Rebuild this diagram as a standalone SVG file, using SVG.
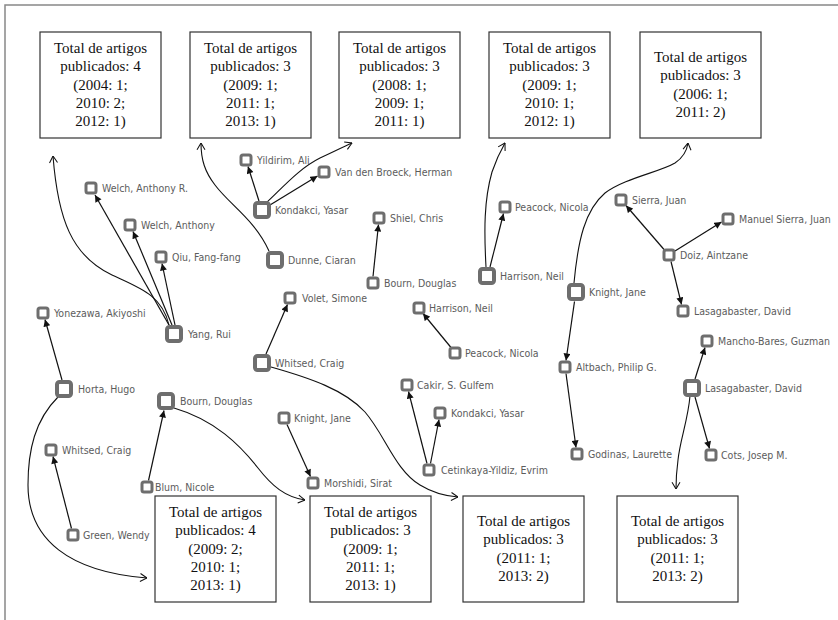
<svg xmlns="http://www.w3.org/2000/svg" width="838" height="620" viewBox="0 0 838 620">
<style>
.box{fill:#fff;stroke:#333;stroke-width:1.2}
.bt{font-family:"Liberation Serif","Times New Roman",serif;font-size:15px;fill:#111;text-anchor:middle}
.ns{fill:#fff;stroke:#6e6e6e;stroke-width:3}
.nl{fill:#fff;stroke:#6e6e6e;stroke-width:4}
.lb{font-family:"DejaVu Sans Condensed","Liberation Sans",Arial,sans-serif;font-size:10.5px;fill:#5c5c5c}
.e{fill:none;stroke:#111;stroke-width:1.2;marker-end:url(#fa)}
.c{fill:none;stroke:#111;stroke-width:1.1;marker-end:url(#oa)}
</style>
<defs>
<marker id="fa" viewBox="0 0 10 10" refX="10" refY="5" markerWidth="8" markerHeight="7" orient="auto" markerUnits="userSpaceOnUse"><path d="M0,0 L10,5 L0,10 z" fill="#111"/></marker>
<marker id="oa" viewBox="0 0 10 12" refX="9.5" refY="6" markerWidth="8" markerHeight="9.6" orient="auto" markerUnits="userSpaceOnUse"><path d="M1,1 L9.5,6 L1,11" fill="none" stroke="#111" stroke-width="1.3"/></marker>
</defs>
<rect width="838" height="620" fill="#fff"/>
<path d="M5,620 L5,5 L838,5" fill="none" stroke="#888" stroke-width="1.5"/>

<g id="connectors">
<path class="e" d="M169,325 L95,195"/>
<path class="e" d="M172,325 L133,231.5"/>
<path class="e" d="M175,325 L162,263.5"/>
<path class="e" d="M62,380 L45,319.5"/>
<path class="e" d="M259,201 L248,166.5"/>
<path class="e" d="M270,205 L317.5,176"/>
<path class="e" d="M373,276.5 L378.5,224.5"/>
<path class="e" d="M266,354 L287.5,304.5"/>
<path class="e" d="M490,267 L503.5,213.5"/>
<path class="e" d="M451,347.5 L423,313.5"/>
<path class="e" d="M664,249.5 L626,205.5"/>
<path class="e" d="M675,251 L721.5,222"/>
<path class="e" d="M671,261.5 L681.5,304.5"/>
<path class="e" d="M574.5,301.5 L566,360.5"/>
<path class="e" d="M566,373.5 L576,447.5"/>
<path class="e" d="M695,379 L705,347.5"/>
<path class="e" d="M695,397 L709.5,448.5"/>
<path class="e" d="M427,463.5 L408.5,391.5"/>
<path class="e" d="M430.5,463.5 L439,419.5"/>
<path class="e" d="M287,424.5 L310.5,476.5"/>
<path class="e" d="M148.5,480.5 L164,410.5"/>
<path class="e" d="M71.5,528.5 L53,456.5"/>
<path class="c" d="M169,325 C162,295 140,288 112,275 C72,256 58,220 53,156"/>
<path class="c" d="M269,251 C255,220 230,205 215,185 C205,172 201,160 201,143"/>
<path class="c" d="M266,203 C285,185 300,168 320,158 C333,152 343,147 352,143"/>
<path class="c" d="M486,267 C484,230 484,200 492,172 C497,157 501,150 505,143"/>
<path class="c" d="M574,283 C578,240 585,210 605,193 C625,178 660,172 675,163 C684,157 687,150 688,143"/>
<path class="c" d="M58,397 C35,420 28,450 28,485 C28,540 70,572 147,578"/>
<path class="c" d="M174,408 C215,420 240,445 258,468 C272,486 285,497 305,500"/>
<path class="c" d="M271,367 C310,378 345,390 365,412 C385,435 395,470 420,485 C433,493 445,496 458,497"/>
<path class="c" d="M690,396 C688,420 680,440 678,460 C676,475 676,482 676,489"/>
</g>

<g id="box1"><rect class="box" x="40" y="32" width="121" height="106"/><text class="bt"><tspan x="100.5" y="53">Total de artigos</tspan><tspan x="100.5" y="71.3">publicados: 4</tspan><tspan x="100.5" y="89.6">(2004: 1;</tspan><tspan x="100.5" y="107.9">2010: 2;</tspan><tspan x="100.5" y="126.2">2012: 1)</tspan></text></g>
<g id="box2"><rect class="box" x="190" y="32" width="121" height="106"/><text class="bt"><tspan x="250.5" y="53">Total de artigos</tspan><tspan x="250.5" y="71.3">publicados: 3</tspan><tspan x="250.5" y="89.6">(2009: 1;</tspan><tspan x="250.5" y="107.9">2011: 1;</tspan><tspan x="250.5" y="126.2">2013: 1)</tspan></text></g>
<g id="box3"><rect class="box" x="339" y="32" width="121" height="106"/><text class="bt"><tspan x="399.5" y="53">Total de artigos</tspan><tspan x="399.5" y="71.3">publicados: 3</tspan><tspan x="399.5" y="89.6">(2008: 1;</tspan><tspan x="399.5" y="107.9">2009: 1;</tspan><tspan x="399.5" y="126.2">2011: 1)</tspan></text></g>
<g id="box4"><rect class="box" x="489" y="32" width="121" height="106"/><text class="bt"><tspan x="549.5" y="53">Total de artigos</tspan><tspan x="549.5" y="71.3">publicados: 3</tspan><tspan x="549.5" y="89.6">(2009: 1;</tspan><tspan x="549.5" y="107.9">2010: 1;</tspan><tspan x="549.5" y="126.2">2012: 1)</tspan></text></g>
<g id="box5"><rect class="box" x="640" y="32" width="121" height="106"/><text class="bt"><tspan x="700.5" y="62">Total de artigos</tspan><tspan x="700.5" y="80.3">publicados: 3</tspan><tspan x="700.5" y="98.6">(2006: 1;</tspan><tspan x="700.5" y="116.9">2011: 2)</tspan></text></g>
<g id="box6"><rect class="box" x="155" y="496" width="121" height="106"/><text class="bt"><tspan x="215.5" y="517">Total de artigos</tspan><tspan x="215.5" y="535.3">publicados: 4</tspan><tspan x="215.5" y="553.6">(2009: 2;</tspan><tspan x="215.5" y="571.9">2010: 1;</tspan><tspan x="215.5" y="590.2">2013: 1)</tspan></text></g>
<g id="box7"><rect class="box" x="310" y="496" width="121" height="106"/><text class="bt"><tspan x="370.5" y="517">Total de artigos</tspan><tspan x="370.5" y="535.3">publicados: 3</tspan><tspan x="370.5" y="553.6">(2009: 1;</tspan><tspan x="370.5" y="571.9">2011: 1;</tspan><tspan x="370.5" y="590.2">2013: 1)</tspan></text></g>
<g id="box8"><rect class="box" x="463" y="496" width="121" height="106"/><text class="bt"><tspan x="523.5" y="526">Total de artigos</tspan><tspan x="523.5" y="544.3">publicados: 3</tspan><tspan x="523.5" y="562.6">(2011: 1;</tspan><tspan x="523.5" y="580.9">2013: 2)</tspan></text></g>
<g id="box9"><rect class="box" x="617" y="496" width="121" height="106"/><text class="bt"><tspan x="677.5" y="526">Total de artigos</tspan><tspan x="677.5" y="544.3">publicados: 3</tspan><tspan x="677.5" y="562.6">(2011: 1;</tspan><tspan x="677.5" y="580.9">2013: 2)</tspan></text></g>

<g id="n1"><rect class="ns" x="86" y="183" width="10" height="10" rx="2"/><text class="lb" x="102" y="192">Welch, Anthony R.</text></g>
<g id="n2"><rect class="ns" x="125" y="220" width="10" height="10" rx="2"/><text class="lb" x="141" y="229">Welch, Anthony</text></g>
<g id="n3"><rect class="ns" x="156" y="252" width="10" height="10" rx="2"/><text class="lb" x="172" y="261">Qiu, Fang-fang</text></g>
<g id="n4"><rect class="ns" x="38" y="308" width="10" height="10" rx="2"/><text class="lb" x="54" y="317">Yonezawa, Akiyoshi</text></g>
<g id="n5"><rect class="nl" x="167" y="327" width="14" height="14" rx="2.5"/><text class="lb" x="188" y="338">Yang, Rui</text></g>
<g id="n6"><rect class="ns" x="241" y="155" width="10" height="10" rx="2"/><text class="lb" x="257" y="164">Yildirim, Ali</text></g>
<g id="n7"><rect class="ns" x="319" y="167" width="10" height="10" rx="2"/><text class="lb" x="335" y="176">Van den Broeck, Herman</text></g>
<g id="n8"><rect class="nl" x="255" y="203" width="14" height="14" rx="2.5"/><text class="lb" x="275" y="214">Kondakci, Yasar</text></g>
<g id="n9"><rect class="nl" x="268" y="253" width="14" height="14" rx="2.5"/><text class="lb" x="288" y="264">Dunne, Ciaran</text></g>
<g id="n10"><rect class="ns" x="374" y="213" width="10" height="10" rx="2"/><text class="lb" x="390" y="222">Shiel, Chris</text></g>
<g id="n11"><rect class="ns" x="368" y="278" width="10" height="10" rx="2"/><text class="lb" x="384" y="287">Bourn, Douglas</text></g>
<g id="n12"><rect class="ns" x="285" y="293" width="10" height="10" rx="2"/><text class="lb" x="302" y="302">Volet, Simone</text></g>
<g id="n13"><rect class="nl" x="255" y="356" width="14" height="14" rx="2.5"/><text class="lb" x="275" y="367">Whitsed, Craig</text></g>
<g id="n14"><rect class="nl" x="57" y="382" width="14" height="14" rx="2.5"/><text class="lb" x="78" y="393">Horta, Hugo</text></g>
<g id="n15"><rect class="nl" x="159" y="394" width="14" height="14" rx="2.5"/><text class="lb" x="180" y="405">Bourn, Douglas</text></g>
<g id="n16"><rect class="ns" x="414" y="303" width="10" height="10" rx="2"/><text class="lb" x="429" y="312">Harrison, Neil</text></g>
<g id="n17"><rect class="ns" x="500" y="202" width="10" height="10" rx="2"/><text class="lb" x="515" y="211">Peacock, Nicola</text></g>
<g id="n18"><rect class="nl" x="480" y="269" width="14" height="14" rx="2.5"/><text class="lb" x="500" y="280">Harrison, Neil</text></g>
<g id="n19"><rect class="ns" x="616" y="195" width="10" height="10" rx="2"/><text class="lb" x="632" y="204">Sierra, Juan</text></g>
<g id="n20"><rect class="ns" x="723" y="214" width="10" height="10" rx="2"/><text class="lb" x="739" y="223">Manuel Sierra, Juan</text></g>
<g id="n21"><rect class="ns" x="664" y="250" width="10" height="10" rx="2"/><text class="lb" x="680" y="259">Doiz, Aintzane</text></g>
<g id="n22"><rect class="nl" x="569" y="285" width="14" height="14" rx="2.5"/><text class="lb" x="589" y="296">Knight, Jane</text></g>
<g id="n23"><rect class="ns" x="678" y="306" width="10" height="10" rx="2"/><text class="lb" x="694" y="315">Lasagabaster, David</text></g>
<g id="n24"><rect class="ns" x="450" y="348" width="10" height="10" rx="2"/><text class="lb" x="465" y="357">Peacock, Nicola</text></g>
<g id="n25"><rect class="ns" x="702" y="336" width="10" height="10" rx="2"/><text class="lb" x="718" y="345">Mancho-Bares, Guzman</text></g>
<g id="n26"><rect class="ns" x="560" y="362" width="10" height="10" rx="2"/><text class="lb" x="576" y="371">Altbach, Philip G.</text></g>
<g id="n27"><rect class="nl" x="685" y="381" width="14" height="14" rx="2.5"/><text class="lb" x="705" y="392">Lasagabaster, David</text></g>
<g id="n28"><rect class="ns" x="402" y="380" width="10" height="10" rx="2"/><text class="lb" x="417" y="389">Cakir, S. Gulfem</text></g>
<g id="n29"><rect class="ns" x="435" y="408" width="10" height="10" rx="2"/><text class="lb" x="451" y="417">Kondakci, Yasar</text></g>
<g id="n30"><rect class="ns" x="279" y="413" width="10" height="10" rx="2"/><text class="lb" x="294" y="422">Knight, Jane</text></g>
<g id="n31"><rect class="ns" x="308" y="478" width="10" height="10" rx="2"/><text class="lb" x="324" y="487">Morshidi, Sirat</text></g>
<g id="n32"><rect class="ns" x="424" y="465" width="10" height="10" rx="2"/><text class="lb" x="441" y="474">Cetinkaya-Yildiz, Evrim</text></g>
<g id="n33"><rect class="ns" x="46" y="445" width="10" height="10" rx="2"/><text class="lb" x="62" y="454">Whitsed, Craig</text></g>
<g id="n34"><rect class="ns" x="142" y="482" width="10" height="10" rx="2"/><text class="lb" x="155" y="491">Blum, Nicole</text></g>
<g id="n35"><rect class="ns" x="68" y="530" width="10" height="10" rx="2"/><text class="lb" x="83" y="539">Green, Wendy</text></g>
<g id="n36"><rect class="ns" x="572" y="449" width="10" height="10" rx="2"/><text class="lb" x="588" y="458">Godinas, Laurette</text></g>
<g id="n37"><rect class="ns" x="706" y="450" width="10" height="10" rx="2"/><text class="lb" x="721" y="459">Cots, Josep M.</text></g>
</svg>
